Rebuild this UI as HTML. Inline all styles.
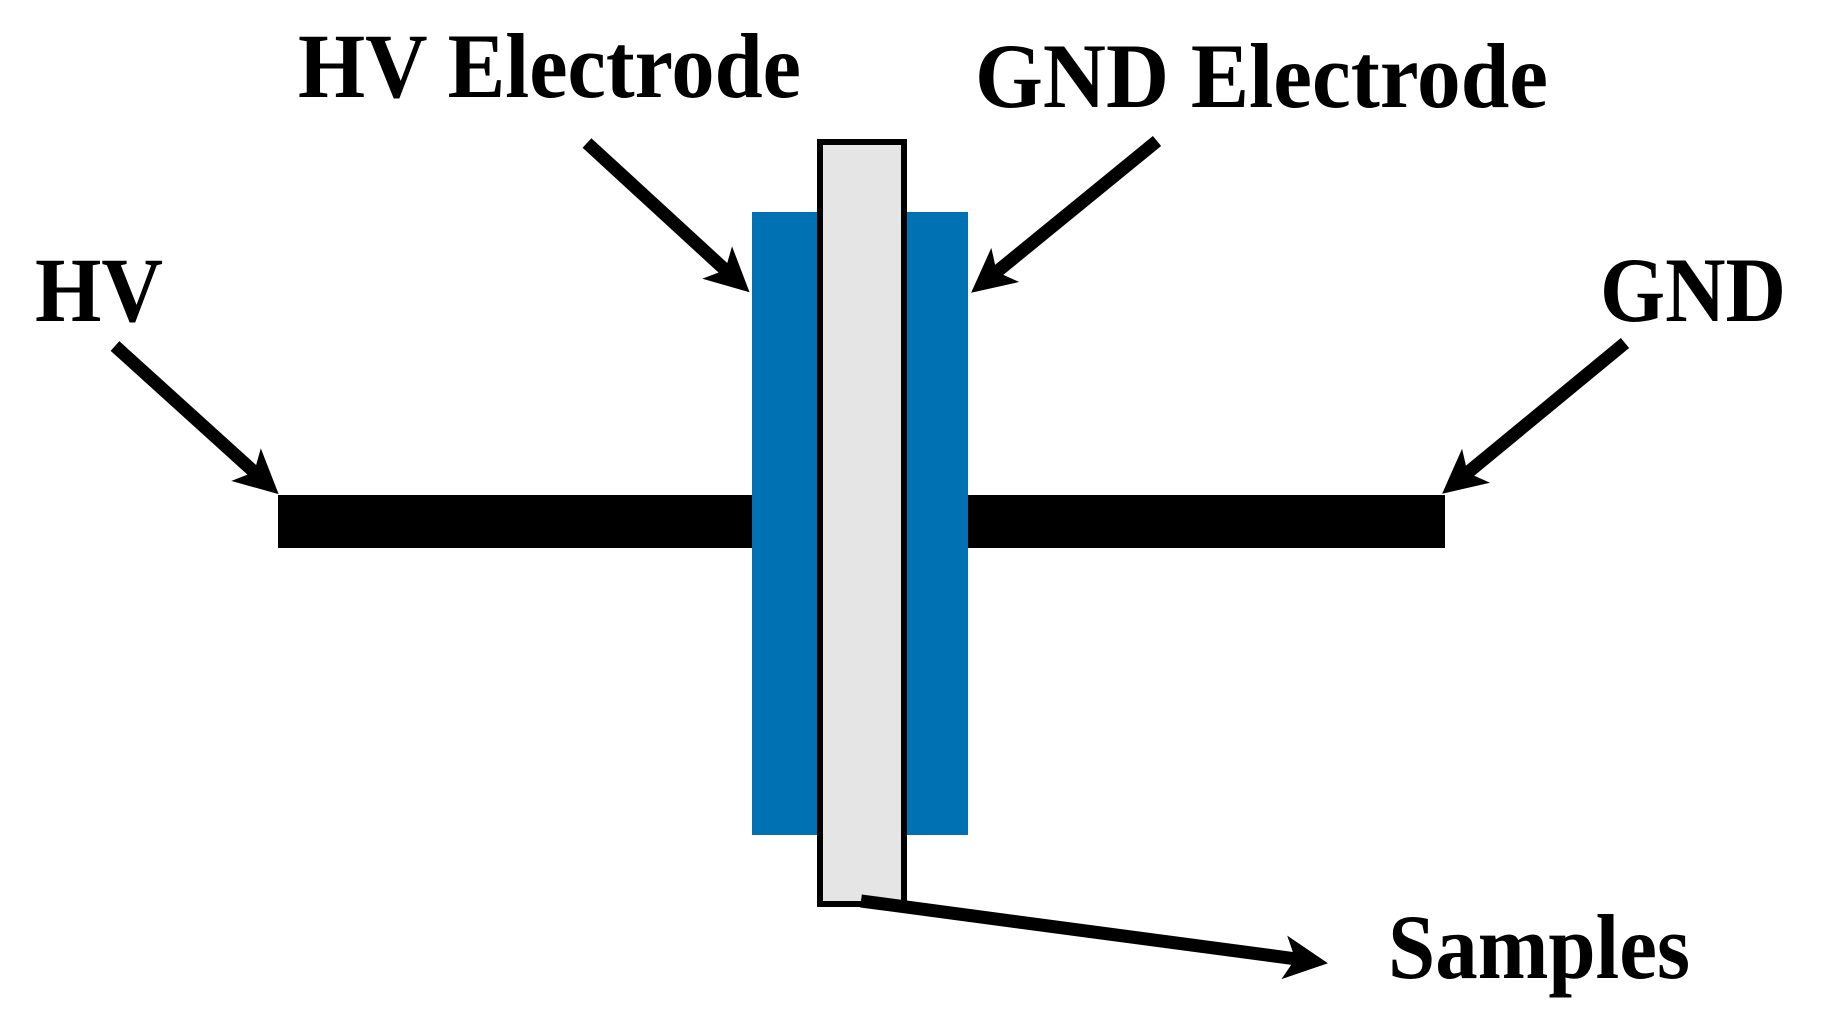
<!DOCTYPE html>
<html><head><meta charset="utf-8"><style>html,body{margin:0;padding:0;background:#fff}svg{display:block}</style></head>
<body>
<svg width="1829" height="1030" viewBox="0 0 1829 1030" xmlns="http://www.w3.org/2000/svg">
<defs>
<marker id="a" viewBox="0 0 10 10" refX="5.2" refY="5" markerWidth="44" markerHeight="44" markerUnits="userSpaceOnUse" orient="auto">
<path d="M0,0 L10,5 L0,10 L2.5,5 Z" fill="#000"/>
</marker>
</defs>
<rect x="278" y="495" width="1167" height="53" fill="#000"/>
<rect x="752" y="212" width="216" height="623" fill="#0071b3"/>
<rect x="820" y="142" width="84" height="762" fill="#e6e5e6" stroke="#000" stroke-width="6"/>
<g stroke="#000" stroke-width="13" fill="none" stroke-linecap="butt">
<line x1="587" y1="143" x2="734" y2="278" marker-end="url(#a)"/>
<line x1="1157" y1="141" x2="987.5" y2="279.4" marker-end="url(#a)"/>
<line x1="115" y1="346" x2="263" y2="480" marker-end="url(#a)"/>
<line x1="1625" y1="343" x2="1458.4" y2="480.3" marker-end="url(#a)"/>
<line x1="861" y1="901" x2="1307" y2="960.4" marker-end="url(#a)"/>
</g>
<g font-family="Liberation Serif, serif" font-weight="bold" font-size="92" fill="#000">
<text x="298" y="97" textLength="503" lengthAdjust="spacingAndGlyphs">HV Electrode</text>
<text x="975" y="107" textLength="573" lengthAdjust="spacingAndGlyphs">GND Electrode</text>
<text x="35" y="321" textLength="128" lengthAdjust="spacingAndGlyphs">HV</text>
<text x="1600" y="321" textLength="186" lengthAdjust="spacingAndGlyphs">GND</text>
<text x="1388" y="978" textLength="302" lengthAdjust="spacingAndGlyphs">Samples</text>
</g>
</svg>
</body></html>
